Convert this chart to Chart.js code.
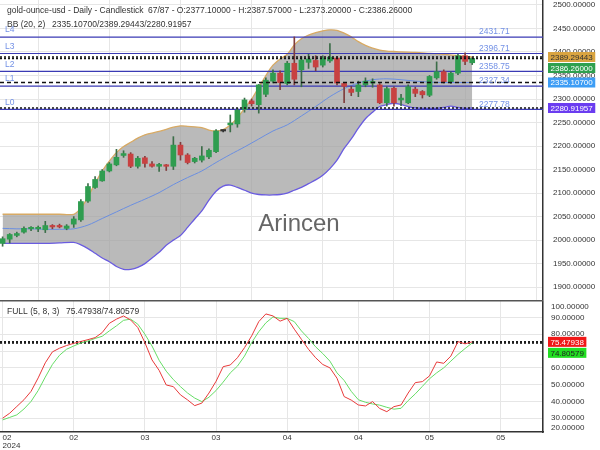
<!DOCTYPE html>
<html>
<head>
<meta charset="utf-8">
<script src="https://cdn.jsdelivr.net/npm/chart.js@4.4.1/dist/chart.umd.min.js"></script>
<style>
  html, body { margin: 0; padding: 0; background: #fff; }
  #wrap { position: relative; width: 600px; height: 450px; overflow: hidden; }
  #priceCanvas { position: absolute; left: 0; top: 0; }
  #stochCanvas { position: absolute; left: 0; top: 300px; }
</style>
</head>
<body>
<div id="wrap">
  <canvas id="priceCanvas" width="600" height="300"></canvas>
  <canvas id="stochCanvas" width="600" height="150"></canvas>
</div>
<script>
// daily candles, index 0..66
var opens = [1993, 2002, 2010, 2017, 2024, 2024, 2022, 2030, 2030, 2025,
  2034, 2043, 2083, 2112, 2126, 2147, 2160, 2180, 2183, 2157,
  2175, 2162, 2157, 2159, 2157, 2202, 2181, 2167, 2170, 2177,
  2188, 2232, 2245, 2247, 2278, 2296, 2288, 2310, 2338, 2355,
  2333, 2376, 2362, 2378, 2382, 2372, 2381, 2387, 2333, 2321,
  2316, 2330, 2334, 2330, 2292, 2323, 2298, 2292, 2321, 2316,
  2308, 2345, 2358, 2337, 2355, 2392, 2377.1]
var highs = [2007, 2014, 2017, 2028, 2029, 2030, 2040, 2033, 2034, 2033,
  2050, 2086, 2120, 2135, 2150, 2165, 2193, 2190, 2186, 2178,
  2178, 2167, 2163, 2161, 2220, 2208, 2184, 2176, 2199, 2194,
  2235, 2234, 2266, 2280, 2302, 2300, 2331, 2345, 2362, 2360,
  2380, 2432, 2390, 2395, 2392, 2392, 2418, 2390, 2335, 2327,
  2338, 2345, 2343, 2333, 2326, 2326, 2310, 2330, 2325, 2318,
  2350, 2379, 2362, 2358, 2395, 2398, 2387.57]
var lows = [1987, 1994, 2007, 2015, 2020, 2018, 2016, 2024, 2026, 2022,
  2027, 2040, 2080, 2110, 2125, 2145, 2158, 2176, 2154, 2153,
  2155, 2155, 2146, 2148, 2150, 2170, 2162, 2164, 2166, 2173,
  2186, 2230, 2230, 2240, 2272, 2285, 2270, 2305, 2334, 2320,
  2330, 2330, 2326, 2365, 2360, 2368, 2378, 2330, 2292, 2307,
  2305, 2326, 2325, 2290, 2285, 2285, 2286, 2290, 2305, 2302,
  2305, 2342, 2334, 2333, 2352, 2373, 2373.2]
var closes = [2003, 2012, 2014, 2025, 2025, 2025, 2031, 2028, 2028, 2030,
  2045, 2082, 2114, 2129, 2147, 2162, 2176, 2184, 2157, 2174,
  2163, 2157, 2161, 2157, 2202, 2181, 2165, 2174, 2179, 2191,
  2232, 2232, 2249, 2276, 2298, 2290, 2330, 2340, 2355, 2335,
  2376, 2342, 2383, 2385, 2368, 2387, 2389, 2334, 2327, 2314,
  2330, 2338, 2337, 2292, 2322, 2292, 2302, 2326, 2312, 2309,
  2348, 2358, 2337, 2355, 2392, 2380, 2386.26]

// Bollinger (20, 2): [index, value]
var bbUpper = [[0, 2055], [2, 2055], [4, 2055], [6, 2055], [8, 2055], [10, 2055],
  [11, 2068], [12, 2092], [13, 2121], [14, 2147], [15, 2168], [16, 2186], [17, 2199],
  [18, 2208], [19, 2217], [20, 2224], [22, 2231], [24, 2240], [25, 2243], [26, 2242],
  [28, 2239], [29, 2234], [30, 2232], [31, 2235], [32, 2245], [33, 2260], [34, 2280],
  [35, 2300], [36, 2325], [37, 2350], [38, 2372], [39, 2385], [40, 2395], [41, 2415],
  [42, 2428], [43, 2436], [44, 2441], [45, 2445], [46, 2447], [47, 2446], [48, 2440],
  [49, 2432], [50, 2422], [51, 2414], [52, 2408], [53, 2404], [54, 2402], [55, 2401],
  [56, 2400], [58, 2399], [60, 2397], [62, 2395], [64, 2392], [66, 2389.29443]]
var bbMiddle = [[0, 2025], [2, 2024], [4, 2024], [6, 2023], [8, 2023], [10, 2024],
  [12, 2032], [14, 2046], [16, 2060], [18, 2074], [20, 2087], [22, 2101], [24, 2118],
  [26, 2133], [28, 2147], [30, 2165], [32, 2182], [34, 2198], [36, 2215], [38, 2232],
  [40, 2245], [42, 2264], [44, 2284], [46, 2305], [48, 2322], [50, 2334], [52, 2341],
  [54, 2343], [56, 2341], [58, 2338], [60, 2336], [62, 2335], [64, 2335], [66, 2335.107]]
var bbLower = [[0, 1993], [2, 1993], [4, 1993], [6, 1993], [8, 1994], [10, 1995],
  [11, 1990], [12, 1982], [13, 1972], [14, 1962], [15, 1954], [16, 1944], [17, 1938],
  [18, 1938], [19, 1942], [20, 1950], [21, 1962], [22, 1974], [23, 1989], [24, 2000],
  [25, 2010], [26, 2027], [27, 2045], [28, 2062], [29, 2085], [30, 2104], [31, 2115],
  [32, 2117], [33, 2112], [34, 2106], [35, 2100], [36, 2097], [37, 2096], [38, 2096],
  [39, 2097], [40, 2100], [41, 2106], [42, 2112], [43, 2120], [44, 2128], [45, 2138],
  [46, 2152], [47, 2170], [48, 2195], [49, 2215], [50, 2238], [51, 2258], [52, 2272],
  [53, 2284], [54, 2288], [55, 2291], [56, 2288], [57, 2284], [58, 2281], [59, 2280],
  [60, 2280], [61, 2280], [62, 2282], [63, 2285], [64, 2282], [65, 2280], [66, 2280.91957]]

var levelNames = ['L0', 'L1', 'L2', 'L3', 'L4']
var levelValues = [2277.78, 2327.34, 2358.75, 2396.71, 2431.71]

// stochastic FULL (5, 8, 3), one value per candle
var stochK = [30, 33, 37, 41, 46, 54, 63, 69.5, 71.7, 73.3,
  74.6, 75.7, 76.8, 78, 81, 86.5, 89, 90.9, 88.5, 84,
  75, 64.7, 58.5, 49.8, 48.8, 43.9, 40.9, 37.5, 39, 45,
  52, 60.7, 61.7, 66, 72, 79, 87.5, 92.1, 90.9, 87.8,
  89.5, 83, 77, 71, 66, 62, 60, 53.8, 42.9, 40.8,
  37.9, 37.3, 39.9, 35.8, 33.9, 36.9, 37.9, 45, 51.2, 51.8,
  55.2, 63.5, 62.7, 67, 75.6, 74.3, 75.47938]
var stochD = [29, 30.5, 32, 35.5, 40, 46.5, 54.5, 62, 67.5, 71.1,
  73, 74.8, 76, 77.5, 78.8, 82, 85, 88.3, 89, 86,
  80, 73, 64.5, 58, 53, 48.8, 45, 42, 39.9, 42.5,
  46.5, 51.5, 57, 61, 67, 75, 81.5, 86.8, 90.3, 89.5,
  89.5, 87.5, 82, 77.5, 72.5, 68.5, 64, 57, 52.5, 46,
  41, 39.5, 38.5, 37.8, 36.5, 35.4, 35.9, 40.5, 44.5, 49,
  53.5, 57, 60, 64, 68, 71.5, 74.80579]

var monthLabels = ['02', '02', '03', '03', '04', '04', '05', '05']
var yearLabel = '2024'
var stochTickLabels = ['20.00000', '30.00000', '40.00000', '50.00000', '60.00000',
  '70.00000', '80.00000', '90.00000', '100.00000']

var titleMain = 'gold-ounce-usd - Daily - Candlestick'
var titleQuote = '67/87 - O:2377.10000 - H:2387.57000 - L:2373.20000 - C:2386.26000'
var titleBB = 'BB (20, 2)'
var titleBBValues = '2335.10700/2389.29443/2280.91957'
var titleStoch = 'FULL (5, 8, 3)'
var titleStochValues = '75.47938/74.80579'

// ---- layout / style ----
var FONT = '"Liberation Sans", Arial, sans-serif'
var X_MIN = -0.365
var X_MAX = 75.95
var upColor = '#2f9d50'
var downColor = '#c84141'
var flatColor = '#333333'
var gridColor = '#e6e6e6'

Chart.defaults.font.family = FONT
Chart.defaults.font.size = 8
Chart.defaults.color = '#333'

function last(arr) { return arr[arr.length - 1] }
function pts(pairs) { return pairs.map(function (p) { return { x: p[0], y: p[1] } }) }
function hline(v) { return [{ x: X_MIN, y: v }, { x: X_MAX, y: v }] }

var candleColors = opens.map(function (o, i) {
  if (closes[i] > o) return upColor
  if (closes[i] < o) return downColor
  return flatColor
})
var wickColors = opens.map(function (o, i) {
  if (closes[i] > o) return '#3c6e49'
  if (closes[i] < o) return '#7f3d3d'
  return flatColor
})

function drawTag(ctx, x, y, text, bg, fg) {
  ctx.font = '8px ' + FONT
  var w = ctx.measureText(text).width + 5
  ctx.fillStyle = bg
  ctx.fillRect(x, y - 5, w, 10)
  ctx.fillStyle = fg
  ctx.textAlign = 'left'
  ctx.textBaseline = 'middle'
  ctx.fillText(text, x + 2.5, y + 0.5)
}

function drawTags(ctx, scale, tags) {
  var list = tags.map(function (t) {
    return { t: t, y: scale.getPixelForValue(t.value) }
  }).sort(function (a, b) { return a.y - b.y })
  var prev = -100
  list.forEach(function (item) {
    var y = Math.max(item.y, prev + 11)
    drawTag(ctx, scale.left + 5, y, item.t.text, item.t.bg, item.t.fg)
    prev = y
  })
}

// ---------------- price chart ----------------
var priceOverlay = {
  id: 'priceOverlay',
  beforeDatasetsDraw: function (chart) {
    var ctx = chart.ctx
    ctx.save()
    ctx.font = '24px ' + FONT
    ctx.fillStyle = 'rgba(85,85,85,0.9)'
    ctx.textAlign = 'center'
    ctx.textBaseline = 'middle'
    ctx.fillText('Arincen', 299, 224)
    ctx.restore()
  },
  afterDraw: function (chart) {
    var ctx = chart.ctx
    var area = chart.chartArea
    var y = chart.scales.y
    ctx.save()
    ctx.font = '8.5px ' + FONT
    ctx.fillStyle = '#333'
    ctx.textAlign = 'left'
    ctx.textBaseline = 'middle'
    ctx.fillText(titleMain, 7, 10.5)
    ctx.fillText(titleQuote, 148, 10.5)
    ctx.fillText(titleBB, 7, 25)
    ctx.fillText(titleBBValues, 52, 25)

    ctx.font = '8.5px ' + FONT
    ctx.fillStyle = '#7391e6'
    levelValues.forEach(function (v, i) {
      var py = y.getPixelForValue(v)
      ctx.fillText(levelNames[i], area.left + 5, py - 7)
      ctx.fillText(v.toFixed(2), 479, py - 5)
    })

    drawTags(ctx, y, [
      { value: last(bbUpper)[1], text: last(bbUpper)[1].toFixed(5), bg: '#d9a441', fg: '#333' },
      { value: last(closes), text: last(closes).toFixed(5), bg: '#2ea04f', fg: '#fff' },
      { value: last(bbMiddle)[1], text: last(bbMiddle)[1].toFixed(5), bg: '#3d9df5', fg: '#fff' },
      { value: last(bbLower)[1], text: last(bbLower)[1].toFixed(5), bg: '#6a3cf0', fg: '#fff' }
    ])
    ctx.restore()
  }
}

var priceDatasets = [
  {
    type: 'line', label: 'upper', data: pts(bbUpper), order: 20,
    borderColor: '#d8aa64', borderWidth: 1.3, pointRadius: 0, tension: 0.3,
    fill: { target: 1 }, backgroundColor: 'rgba(160,160,160,0.72)'
  },
  {
    type: 'line', label: 'lower', data: pts(bbLower), order: 19,
    borderColor: '#6a5ce0', borderWidth: 1.3, pointRadius: 0, tension: 0.3, fill: false
  },
  {
    type: 'line', label: 'middle', data: pts(bbMiddle), order: 18,
    borderColor: '#6a8ee0', borderWidth: 1, pointRadius: 0, tension: 0.3, fill: false
  }
]

levelValues.forEach(function (v) {
  priceDatasets.push({
    type: 'line', data: hline(v), order: 10,
    borderColor: '#3a3ab4', borderWidth: 1.2, pointRadius: 0, fill: false
  })
})

priceDatasets.push({
  type: 'bar', label: 'wick', order: 5, grouped: false,
  data: lows.map(function (l, i) { return { x: i, y: [l, highs[i]] } }),
  backgroundColor: wickColors, barThickness: 1
})
priceDatasets.push({
  type: 'bar', label: 'body', order: 4, grouped: false, minBarLength: 1.5,
  data: opens.map(function (o, i) { return { x: i, y: [o, closes[i]] } }),
  backgroundColor: candleColors, barThickness: 5
})

var lastLines = [
  { v: last(bbUpper)[1], dash: [2, 2] },
  { v: last(closes), dash: [2, 2] },
  { v: last(bbMiddle)[1], dash: [4, 3] },
  { v: last(bbLower)[1], dash: [2, 2] }
]
lastLines.forEach(function (l) {
  priceDatasets.push({
    type: 'line', data: hline(l.v), order: 1,
    borderColor: '#111', borderWidth: 1.6, borderDash: l.dash, pointRadius: 0, fill: false
  })
})

new Chart(document.getElementById('priceCanvas'), {
  type: 'bar',
  data: { datasets: priceDatasets },
  plugins: [priceOverlay],
  options: {
    responsive: false,
    animation: false,
    layout: { padding: 0 },
    plugins: { legend: { display: false }, tooltip: { enabled: false } },
    scales: {
      x: {
        type: 'linear', min: X_MIN, max: X_MAX, offset: false,
        border: { display: false },
        grid: { color: gridColor, drawTicks: false },
        ticks: { display: false, stepSize: 10, includeBounds: false },
        afterFit: function (s) { s.height = 0; s.paddingLeft = 0; s.paddingRight = 0 }
      },
      y: {
        position: 'right', min: 1872.7, max: 2510.5,
        border: { display: true, color: '#333', width: 1.5 },
        grid: { color: gridColor, drawTicks: false },
        ticks: {
          stepSize: 50, includeBounds: false, padding: 10, autoSkip: false,
          color: '#333', font: { size: 8 },
          callback: function (v) { return v.toFixed(5) }
        },
        afterFit: function (s) { s.width = 57; s.paddingTop = 0; s.paddingBottom = 0 }
      }
    }
  }
})

// ---------------- stochastic chart ----------------
var stochTickValues = [24.4, 30, 40, 50, 60, 70, 80, 90, 96.4]

var stochOverlay = {
  id: 'stochOverlay',
  afterDraw: function (chart) {
    var ctx = chart.ctx
    var area = chart.chartArea
    ctx.save()
    ctx.strokeStyle = '#555'
    ctx.lineWidth = 1.5
    ctx.beginPath()
    ctx.moveTo(0, area.top - 0.25)
    ctx.lineTo(area.right, area.top - 0.25)
    ctx.stroke()

    ctx.font = '8.5px ' + FONT
    ctx.fillStyle = '#333'
    ctx.textAlign = 'left'
    ctx.textBaseline = 'middle'
    ctx.fillText(titleStoch, 7, 11.5)
    ctx.fillText(titleStochValues, 66, 11.5)

    drawTags(ctx, chart.scales.y, [
      { value: last(stochK), text: last(stochK).toFixed(5), bg: '#f01818', fg: '#fff' },
      { value: last(stochD), text: last(stochD).toFixed(5), bg: '#22dd22', fg: '#222' }
    ])
    ctx.restore()
  }
}

new Chart(document.getElementById('stochCanvas'), {
  type: 'line',
  data: {
    datasets: [
      {
        data: stochK.map(function (v, i) { return { x: i, y: v } }),
        borderColor: '#e83a3a', borderWidth: 1, pointRadius: 0, tension: 0, fill: false
      },
      {
        data: stochD.map(function (v, i) { return { x: i, y: v } }),
        borderColor: '#66dd66', borderWidth: 1, pointRadius: 0, tension: 0, fill: false
      },
      {
        data: hline(last(stochK)),
        borderColor: '#111', borderWidth: 1.6, borderDash: [2, 2], pointRadius: 0, fill: false
      },
      {
        data: hline(last(stochD)),
        borderColor: '#111', borderWidth: 1.6, borderDash: [2, 2], pointRadius: 0, fill: false
      }
    ]
  },
  plugins: [stochOverlay],
  options: {
    responsive: false,
    animation: false,
    layout: { padding: { top: 1 } },
    plugins: { legend: { display: false }, tooltip: { enabled: false } },
    scales: {
      x: {
        type: 'linear', min: X_MIN, max: X_MAX, offset: false,
        border: { display: true, color: '#333', width: 1.5 },
        grid: { color: gridColor, drawTicks: false },
        ticks: {
          autoSkip: false, maxRotation: 0, padding: 2, align: 'inner',
          color: '#333', font: { size: 8, lineHeight: 1 },
          callback: function (v, i) {
            if (i >= monthLabels.length) return ''
            return i === 0 ? [monthLabels[0], yearLabel] : monthLabels[i]
          }
        },
        afterBuildTicks: function (s) {
          var t = monthLabels.map(function (m, i) { return { value: i * 10 } })
          t.push({ value: X_MAX })
          s.ticks = t
        },
        afterFit: function (s) { s.height = 18; s.paddingLeft = 0; s.paddingRight = 0 }
      },
      y: {
        position: 'right', min: 21.8, max: 99.8,
        border: { display: true, color: '#333', width: 1.5 },
        grid: {
          drawTicks: false,
          color: function (c) {
            var v = c.tick && c.tick.value
            return (v === stochTickValues[0] || v === last(stochTickValues)) ? 'rgba(0,0,0,0)' : gridColor
          }
        },
        ticks: {
          autoSkip: false, padding: 8, color: '#333', font: { size: 8 },
          callback: function (v, i) { return stochTickLabels[i] }
        },
        afterBuildTicks: function (s) {
          s.ticks = stochTickValues.map(function (v) { return { value: v } })
        },
        afterFit: function (s) { s.width = 57; s.paddingTop = 0; s.paddingBottom = 0 }
      }
    }
  }
})
</script>
</body>
</html>
